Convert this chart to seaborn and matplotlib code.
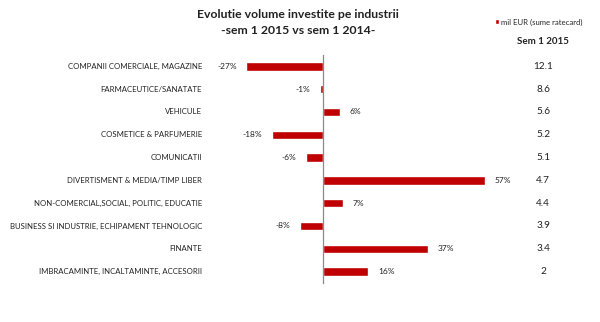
import matplotlib
matplotlib.use("Agg")
import matplotlib.pyplot as plt
import seaborn as sns
import pandas as pd
from matplotlib.patches import Patch

categories = [
    "COMPANII COMERCIALE, MAGAZINE",
    "FARMACEUTICE/SANATATE",
    "VEHICULE",
    "COSMETICE & PARFUMERIE",
    "COMUNICATII",
    "DIVERTISMENT & MEDIA/TIMP LIBER",
    "NON-COMERCIAL,SOCIAL, POLITIC, EDUCATIE",
    "BUSINESS SI INDUSTRIE, ECHIPAMENT TEHNOLOGIC",
    "FINANTE",
    "IMBRACAMINTE, INCALTAMINTE, ACCESORII",
]
change_pct = [-27, -1, 6, -18, -6, 57, 7, -8, 37, 16]
sem1_2015 = ["12.1", "8.6", "5.6", "5.2", "5.1", "4.7", "4.4", "3.9", "3.4", "2"]

title_lines = ["Evolutie volume investite pe industrii", "-sem 1 2015 vs sem 1 2014-"]
legend_label = "mil EUR (sume ratecard)"
column_header = "Sem 1 2015"

df = pd.DataFrame({"categorie": categories, "variatie": change_pct})

sns.set_theme(style="white")
plt.rcParams["font.family"] = ["Lato", "DejaVu Sans"]

W, H = 600, 322
fig = plt.figure(figsize=(6.0, 3.22), dpi=100)
fig.patch.set_facecolor("white")

xmin, xmax = -30, 62
zero_px = 323
scale = 2.84
left_px = zero_px + xmin * scale
right_px = zero_px + xmax * scale
top_px, bottom_px = 55, 283
ax = fig.add_axes([left_px / W, 1 - bottom_px / H,
                   (right_px - left_px) / W, (bottom_px - top_px) / H])

red = "#C00000"
sns.barplot(data=df, x="variatie", y="categorie", orient="h", color=red,
            width=0.36, saturation=1, ax=ax)
ax.set_xlim(xmin, xmax)
ax.set_ylim(len(categories) - 0.5, -0.5)

for s in ["top", "right", "bottom"]:
    ax.spines[s].set_visible(False)
ax.spines["left"].set_position(("data", 0))
ax.spines["left"].set_color("#8a8a8a")
ax.spines["left"].set_linewidth(0.9)
ax.set_xticks([])
ax.set_yticks([])
ax.set_xlabel("")
ax.set_ylabel("")

for i, (cat, v, s) in enumerate(zip(categories, change_pct, sem1_2015)):
    # bar value label
    if v < 0:
        ax.annotate(f"{v}%", (v, i), xytext=(-7, 0), textcoords="offset points",
                    ha="right", va="center", fontsize=6.0, color="#222222")
    else:
        ax.annotate(f"{v}%", (v, i), xytext=(7, 0), textcoords="offset points",
                    ha="left", va="center", fontsize=6.0, color="#222222")
    # category name on the left
    y_fig = ax.transData.transform((0, i))[1] / H
    fig.text(202 / W, y_fig, cat, ha="right", va="center", fontsize=5.6,
             color="#222222")
    # semester volume column
    fig.text(543 / W, y_fig, s, ha="center", va="center", fontsize=7.2,
             color="#222222")

fig.text(298 / W, 1 - 15 / H, title_lines[0], ha="center", va="center",
         fontsize=8.8, fontweight="bold", color="#222222")
fig.text(298 / W, 1 - 30 / H, title_lines[1], ha="center", va="center",
         fontsize=8.8, fontweight="bold", color="#222222")
fig.text(543 / W, 1 - 42 / H, column_header, ha="center", va="center",
         fontsize=7.0, fontweight="bold", color="#222222")

fig.legend(handles=[Patch(facecolor=red, label=legend_label)],
           loc="center", bbox_to_anchor=(539 / W, 1 - 22 / H), frameon=False,
           fontsize=5.6, handlelength=0.5, handleheight=0.7, handletextpad=0.3,
           borderpad=0)

fig.savefig("out.png", dpi=100, facecolor="white")
